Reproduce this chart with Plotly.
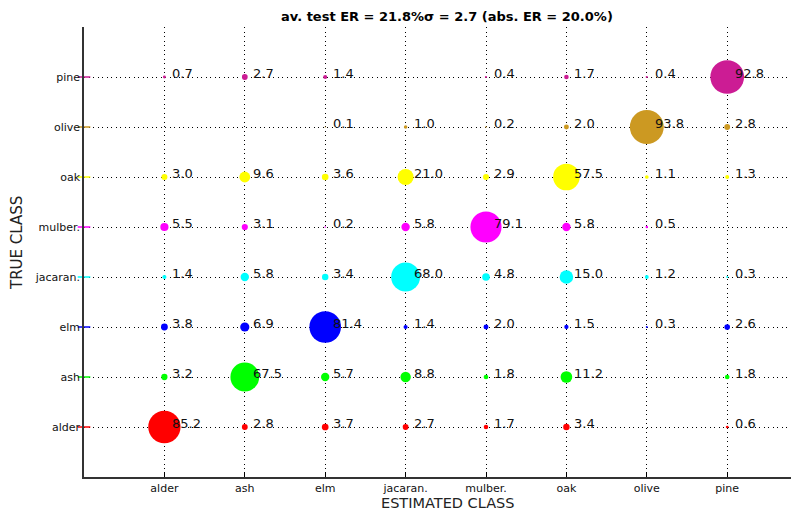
import plotly.graph_objects as go

# ---------------- data ----------------
classes = ["alder", "ash", "elm", "jacaran.", "mulber.", "oak", "olive", "pine"]
row_colors = ["#ff0000", "#00ff00", "#0000ff", "#00ffff",
              "#ff00ff", "#ffff00", "#cc9922", "#cc1c94"]

# rows = true class, columns = estimated class (alder ... pine), in %
alder_row   = [85.2, 2.8, 3.7, 2.7, 1.7, 3.4, None, 0.6]
ash_row     = [3.2, 67.5, 5.7, 8.8, 1.8, 11.2, None, 1.8]
elm_row     = [3.8, 6.9, 81.4, 1.4, 2.0, 1.5, 0.3, 2.6]
jacaran_row = [1.4, 5.8, 3.4, 68.0, 4.8, 15.0, 1.2, 0.3]
mulber_row  = [5.5, 3.1, 0.2, 5.8, 79.1, 5.8, 0.5, None]
oak_row     = [3.0, 9.6, 3.6, 21.0, 2.9, 57.5, 1.1, 1.3]
olive_row   = [None, None, 0.1, 1.0, 0.2, 2.0, 93.8, 2.8]
pine_row    = [0.7, 2.7, 1.4, None, 0.4, 1.7, 0.4, 92.8]

rows = [alder_row, ash_row, elm_row, jacaran_row,
        mulber_row, oak_row, olive_row, pine_row]

title_text = "av. test ER = 21.8%\u03c3 = 2.7 (abs. ER = 20.0%)"

# ---------------- build ----------------
xs, ys, vals, cols = [], [], [], []
for i, r in enumerate(rows):
    for j, v in enumerate(r):
        if v is None:
            continue
        xs.append(j + 1)
        ys.append(i + 1)
        vals.append(v)
        cols.append(row_colors[i])

sizes = [3.5 * v ** 0.5 for v in vals]

fig = go.Figure()

# coloured tick dashes on the left axis
fig.add_trace(go.Scatter(
    x=[0] * len(classes), y=list(range(1, len(classes) + 1)),
    mode="markers",
    marker=dict(symbol="line-ew", size=9, color=row_colors,
                line=dict(color=row_colors, width=1.5)),
    cliponaxis=False, hoverinfo="skip", showlegend=False))

fig.add_trace(go.Scatter(
    x=xs, y=ys, mode="markers",
    marker=dict(size=sizes, color=cols, line=dict(width=0), opacity=1),
    showlegend=False, cliponaxis=False))

annotations = []
for x, y, v in zip(xs, ys, vals):
    annotations.append(dict(
        x=x, y=y, xref="x", yref="y", text=f"{v:.1f}", showarrow=False,
        xanchor="left", yanchor="middle", xshift=6, yshift=4,
        font=dict(family="DejaVu Sans", size=13, color="#111111")))

annotations.append(dict(
    x=0.508, y=1, xref="paper", yref="paper", yshift=11,
    text="<b>" + title_text + "</b>", showarrow=False,
    xanchor="center", yanchor="middle",
    font=dict(family="DejaVu Sans", size=13, color="#000000")))
annotations.append(dict(
    x=0.508, y=0, xref="paper", yref="paper", yshift=-26,
    text="ESTIMATED CLASS", showarrow=False,
    xanchor="center", yanchor="middle",
    font=dict(family="DejaVu Sans", size=14.5, color="#222222")))
annotations.append(dict(
    x=0, y=0.52, xref="paper", yref="paper", xshift=-67,
    text="TRUE CLASS", showarrow=False, textangle=-90,
    xanchor="center", yanchor="middle",
    font=dict(family="DejaVu Sans", size=15, color="#222222")))

grid_style = dict(showgrid=True, gridcolor="#000000", gridwidth=1,
                  griddash="1px,3.5px", zeroline=False, automargin=False)

# the page body adds an 8px offset, so the figure is 8px smaller
fig.update_layout(
    width=791, height=505,
    margin=dict(l=76, r=0, t=19, b=36),
    paper_bgcolor="white", plot_bgcolor="white",
    annotations=annotations,
    xaxis=dict(range=[0, 8.893], tickmode="array",
               tickvals=list(range(1, 9)), ticktext=classes,
               ticks="inside", ticklen=5, tickcolor="#000000",
               showline=True, linecolor="#333333", linewidth=1.5,
               tickfont=dict(family="DejaVu Sans", size=11, color="#111111"),
               **grid_style),
    yaxis=dict(range=[0, 9], tickmode="array",
               tickvals=list(range(1, 9)), ticktext=classes,
               ticks="", showline=True, linecolor="#333333", linewidth=1.5,
               tickfont=dict(family="DejaVu Sans", size=11, color="#111111"),
               **grid_style),
)

fig.write_html("out.html")
